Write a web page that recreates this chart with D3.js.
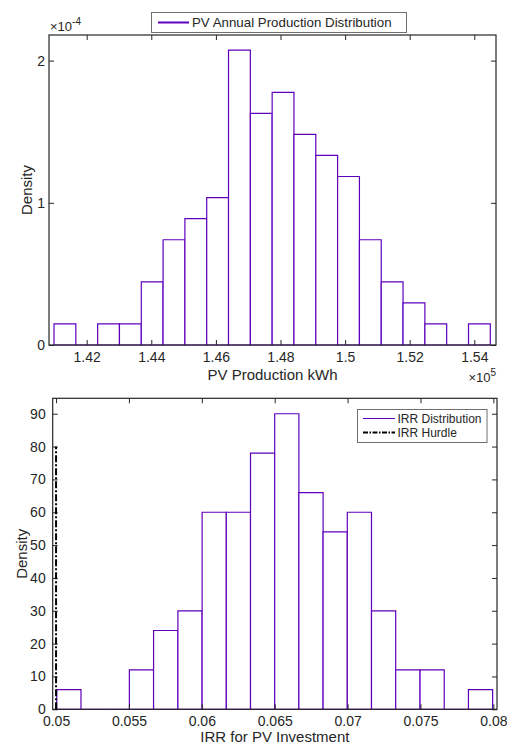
<!DOCTYPE html>
<html>
<head>
<meta charset="utf-8">
<script src="https://cdn.jsdelivr.net/npm/d3@7"></script>
<style>
  body { margin: 0; background: #ffffff; }
  svg text { font-family: "Liberation Sans", Arial, Helvetica, sans-serif; fill: #262626; }
</style>
</head>
<body>
<svg id="chart" width="507" height="745"></svg>
<script>
// Data: PV annual production histogram (kWh, density 1/kWh)
const pvEdges = [140988, 141663, 142339, 143014, 143690, 144365, 145040, 145716, 146391, 147067,
    147742, 148417, 149093, 149768, 150444, 151119, 151794, 152470, 153145, 153821, 154496];
const pvDensity = [1.48e-5, 0, 1.48e-5, 1.48e-5, 4.44e-5, 7.40e-5, 8.88e-5, 1.036e-4, 2.073e-4, 1.629e-4,
    1.777e-4, 1.481e-4, 1.333e-4, 1.185e-4, 7.40e-5, 4.44e-5, 2.96e-5, 1.48e-5, 0, 1.48e-5];
const pvXTicks = [142000, 144000, 146000, 148000, 150000, 152000, 154000];
const pvYTicks = [0, 1e-4, 2e-4];

// Data: IRR histogram
const irrEdges = [0.05005, 0.05171, 0.05337, 0.05503, 0.05669, 0.05836, 0.06002, 0.06168, 0.06334, 0.06500,
    0.06666, 0.06832, 0.06998, 0.07164, 0.07330, 0.07497, 0.07663, 0.07829, 0.07995];
const irrDensity = [6, 0, 0, 12, 24, 30, 60, 60, 78, 90, 66, 54, 60, 30, 12, 12, 0, 6];
const irrXTicks = [0.05, 0.055, 0.06, 0.065, 0.07, 0.075, 0.08];
const irrYTicks = [0, 10, 20, 30, 40, 50, 60, 70, 80, 90];
const irrHurdle = { x: 0.05, y0: 0, y1: 80 };

const purple = "#5f00bd";
const ink = "#262626";

const svg = d3.select("#chart");

function drawPanel(opts) {
    const box = opts.box;
    const x = d3.scaleLinear().domain(opts.xDomain).range([box.left, box.right]);
    const y = d3.scaleLinear().domain(opts.yDomain).range([box.bottom, box.top]);
    const g = svg.append("g");

    // Bars (outlined, white face)
    const bins = opts.density.map((d, i) => ({ x0: opts.edges[i], x1: opts.edges[i + 1], d }));
    g.append("g")
        .selectAll("path")
        .data(bins)
        .enter()
        .append("path")
        .attr("d", b => `M${x(b.x0)},${y(0)}V${y(b.d)}H${x(b.x1)}V${y(0)}Z`)
        .attr("fill", "#ffffff")
        .attr("stroke", purple)
        .attr("stroke-width", 1.2);

    // Axes with inward ticks
    const fontSize = 14;
    const xAxis = d3.axisBottom(x).tickValues(opts.xTicks).tickFormat(opts.xFormat)
        .tickSizeInner(-5).tickSizeOuter(0).tickPadding(7);
    const xAxisTop = d3.axisTop(x).tickValues(opts.xTicks).tickFormat("")
        .tickSizeInner(-5).tickSizeOuter(0);
    const yAxis = d3.axisLeft(y).tickValues(opts.yTicks).tickFormat(opts.yFormat)
        .tickSizeInner(-5).tickSizeOuter(0).tickPadding(opts.yPad);
    const yAxisRight = d3.axisRight(y).tickValues(opts.yTicks).tickFormat("")
        .tickSizeInner(-5).tickSizeOuter(0);

    const axes = [
        g.append("g").attr("transform", `translate(0,${box.bottom})`).call(xAxis),
        g.append("g").attr("transform", `translate(0,${box.top})`).call(xAxisTop),
        g.append("g").attr("transform", `translate(${box.left},0)`).call(yAxis),
        g.append("g").attr("transform", `translate(${box.right},0)`).call(yAxisRight),
    ];
    axes.forEach(a => {
        a.select(".domain").remove();
        a.selectAll("line").attr("stroke", ink);
        a.selectAll("text").attr("font-size", fontSize).attr("fill", ink)
            .style("font-family", '"Liberation Sans", Arial, sans-serif');
    });

    g.append("rect")
        .attr("x", box.left).attr("y", box.top)
        .attr("width", box.right - box.left).attr("height", box.bottom - box.top)
        .attr("fill", "none").attr("stroke", ink).attr("stroke-width", 1.2);

    // Axis labels
    g.append("text")
        .attr("x", (box.left + box.right) / 2).attr("y", opts.xLabelY)
        .attr("text-anchor", "middle").attr("font-size", 15)
        .text(opts.xLabel);
    g.append("text")
        .attr("transform", `translate(${opts.yLabelX},${(box.top + box.bottom) / 2}) rotate(-90)`)
        .attr("text-anchor", "middle").attr("font-size", 15)
        .text("Density");

    return { x, y, g };
}

// Top panel
const pvPanel = drawPanel({
    box: { left: 49, right: 496, top: 35, bottom: 345 },
    xDomain: [140833, 154672],
    yDomain: [0, 2.18e-4],
    edges: pvEdges,
    density: pvDensity,
    xTicks: pvXTicks,
    yTicks: pvYTicks,
    xFormat: d => String(+(d / 1e5).toFixed(2)),
    yFormat: d => String(Math.round(d * 1e4)),
    yPad: 4,
    xLabel: "PV Production kWh",
    xLabelY: 380,
    yLabelX: 32,
});

// exponent labels
const expTop = pvPanel.g.append("text").attr("x", 50).attr("y", 31).attr("font-size", 13);
expTop.append("tspan").text("\u00d710");
expTop.append("tspan").attr("font-size", 10).attr("dy", -6).text("-4");
const expBottom = pvPanel.g.append("text").attr("x", 496).attr("y", 382)
    .attr("text-anchor", "end").attr("font-size", 13);
expBottom.append("tspan").text("\u00d710");
expBottom.append("tspan").attr("font-size", 10).attr("dy", -6).text("5");

// Top legend
const lg1 = pvPanel.g.append("g");
lg1.append("rect").attr("x", 151.5).attr("y", 12.5).attr("width", 255).attr("height", 20)
    .attr("fill", "#ffffff").attr("stroke", "#6e6e6e").attr("stroke-width", 1);
lg1.append("line").attr("x1", 158).attr("x2", 189).attr("y1", 22.5).attr("y2", 22.5)
    .attr("stroke", purple).attr("stroke-width", 2);
lg1.append("text").attr("x", 192).attr("y", 27).attr("font-size", 13.3)
    .text("PV Annual Production Distribution");

// Bottom panel
const irrPanel = drawPanel({
    box: { left: 52.7, right: 497, top: 398.3, bottom: 709.3 },
    xDomain: [0.04977, 0.08025],
    yDomain: [0, 94.7],
    edges: irrEdges,
    density: irrDensity,
    xTicks: irrXTicks,
    yTicks: irrYTicks,
    xFormat: d => String(+d.toFixed(3)),
    yFormat: d => String(d),
    yPad: 7,
    xLabel: "IRR for PV Investment",
    xLabelY: 742,
    yLabelX: 27,
});

// Hurdle line
irrPanel.g.append("line")
    .attr("x1", irrPanel.x(irrHurdle.x)).attr("x2", irrPanel.x(irrHurdle.x))
    .attr("y1", irrPanel.y(irrHurdle.y0)).attr("y2", irrPanel.y(irrHurdle.y1))
    .attr("stroke", "#000000").attr("stroke-width", 2)
    .attr("stroke-dasharray", "7,2,2,2");

// Bottom legend
const lg2 = irrPanel.g.append("g");
lg2.append("rect").attr("x", 357.5).attr("y", 409.5).attr("width", 129.5).attr("height", 33)
    .attr("fill", "#ffffff").attr("stroke", "#6e6e6e").attr("stroke-width", 1);
lg2.append("line").attr("x1", 363).attr("x2", 395).attr("y1", 418.5).attr("y2", 418.5)
    .attr("stroke", purple).attr("stroke-width", 1);
lg2.append("line").attr("x1", 363).attr("x2", 395).attr("y1", 432.5).attr("y2", 432.5)
    .attr("stroke", "#000000").attr("stroke-width", 1.8)
    .attr("stroke-dasharray", "5,1.5,1.5,1.5");
lg2.append("text").attr("x", 397.5).attr("y", 422.8).attr("font-size", 12).text("IRR Distribution");
lg2.append("text").attr("x", 397.5).attr("y", 437).attr("font-size", 12).text("IRR Hurdle");
</script>
</body>
</html>
